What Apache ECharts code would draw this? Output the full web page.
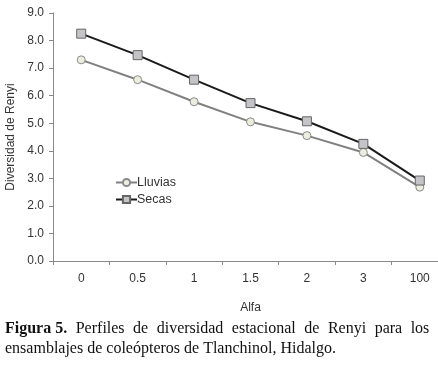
<!DOCTYPE html>
<html>
<head>
<meta charset="utf-8">
<script src="https://cdn.jsdelivr.net/npm/echarts@6/dist/echarts.min.js"></script>
<style>
  html, body { margin: 0; padding: 0; background: #fff; }
  #chart { width: 438px; height: 369px; }
</style>
</head>
<body>
<div id="chart"></div>
<script>
const alfa = ["0", "0.5", "1", "1.5", "2", "3", "100"];
const lluvias = [7.30, 6.58, 5.78, 5.05, 4.55, 3.94, 2.68];
const secas = [8.25, 7.47, 6.58, 5.73, 5.07, 4.25, 2.92];

const chart = echarts.init(document.getElementById("chart"));
const axisFont = "Liberation Sans, Arial, sans-serif";
const serif = "Liberation Serif, Times New Roman, serif";

// primera linea del pie justificada: espacios mas anchos
const line1 = "Figura 5.|Perfiles|de|diversidad|estacional|de|Renyi|para|los".split("|");
const caption = "{b|" + line1[0] + "}" + line1.slice(1).map(w => "{s| }" + w).join("") +
  "\nensamblajes de coleópteros de Tlanchinol, Hidalgo.";

const option = {
  animation: false,
  backgroundColor: "#fff",
  grid: { left: 53, top: 13, bottom: 108, right: -10, containLabel: false, outerBoundsMode: "none" },
  title: {
    left: 5,
    top: 319,
    padding: 0,
    text: caption,
    textStyle: {
      fontFamily: serif,
      fontSize: 16,
      fontWeight: "normal",
      color: "#111",
      lineHeight: 20,
      rich: {
        b: { fontFamily: serif, fontSize: 16, fontWeight: "bold", color: "#111", lineHeight: 20 },
        s: { fontFamily: serif, fontSize: 16, width: 8.5, lineHeight: 20 }
      }
    }
  },
  legend: {
    left: 110,
    top: 171,
    orient: "vertical",
    itemGap: 4,
    itemWidth: 21,
    itemHeight: 9,
    textStyle: { fontFamily: axisFont, fontSize: 12.5, color: "#333", padding: [0, 0, 0, -5] },
    data: ["Lluvias", "Secas"]
  },
  xAxis: {
    type: "category",
    data: alfa,
    name: "Alfa",
    nameLocation: "middle",
    nameGap: 41,
    nameTextStyle: { fontFamily: axisFont, fontSize: 12, color: "#333" },
    axisLine: { lineStyle: { color: "#888", width: 1 } },
    axisTick: { show: true, length: 4, inside: false, lineStyle: { color: "#888" } },
    axisLabel: { fontFamily: axisFont, fontSize: 12, color: "#333", margin: 12 },
    splitLine: { show: false }
  },
  yAxis: {
    type: "value",
    min: 0,
    max: 9,
    interval: 1,
    name: "Diversidad de Renyi",
    nameLocation: "middle",
    nameGap: 35,
    nameTextStyle: { fontFamily: axisFont, fontSize: 12, color: "#333" },
    axisLine: { show: true, lineStyle: { color: "#888", width: 1 } },
    axisTick: { show: true, length: 4, lineStyle: { color: "#888" } },
    axisLabel: {
      fontFamily: axisFont, fontSize: 12, color: "#333", margin: 9,
      formatter: v => v.toFixed(1)
    },
    splitLine: { show: false }
  },
  series: [
    {
      name: "Lluvias",
      type: "line",
      data: lluvias,
      symbol: "circle",
      symbolSize: 8,
      lineStyle: { color: "#808080", width: 2 },
      itemStyle: { color: "#eceedd", borderColor: "#8a8a8a", borderWidth: 1 }
    },
    {
      name: "Secas",
      type: "line",
      data: secas,
      symbol: "rect",
      symbolSize: 9,
      lineStyle: { color: "#1a1a1a", width: 2 },
      itemStyle: { color: "#c4c4c8", borderColor: "#666", borderWidth: 1 }
    }
  ]
};

chart.setOption(option);
</script>
</body>
</html>
